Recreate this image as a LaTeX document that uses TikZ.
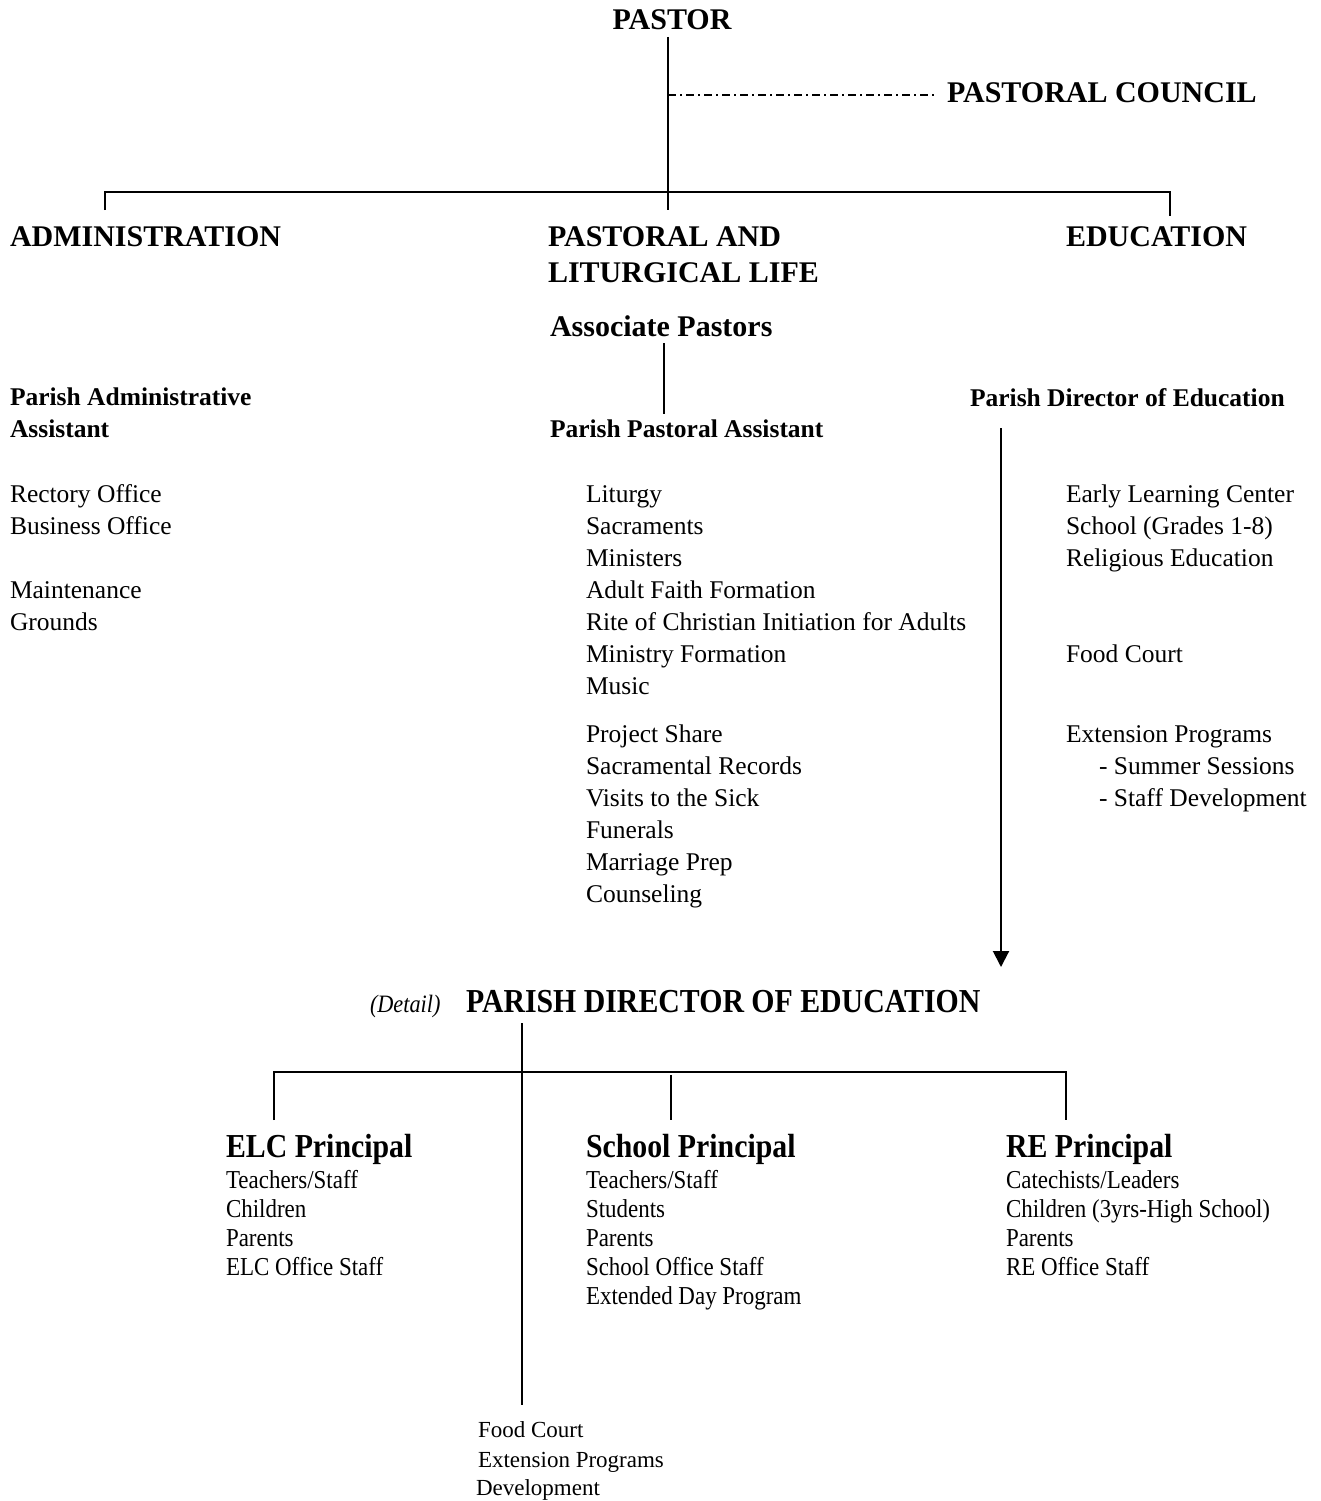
\documentclass[tikz,border=0pt]{standalone}
\usepackage{fontspec}
\setmainfont{Liberation Serif}
\newfontfamily\condfont[FakeStretch=0.89]{Liberation Serif}
\usetikzlibrary{arrows.meta}
\begin{document}
\begin{tikzpicture}[x=1pt,y=-1pt,
  every node/.style={inner sep=0pt, outer sep=0pt, anchor=base west},
  big/.style={font=\fontsize{30}{36}\selectfont\bfseries},
  sub/.style={font=\fontsize{25.5}{32}\selectfont\bfseries},
  itm/.style={font=\fontsize{25.5}{32}\selectfont},
  cbig/.style={font=\condfont\fontsize{33.5}{40}\selectfont\bfseries},
  cit/.style={font=\condfont\fontsize{25}{30}\selectfont\itshape},
  citm/.style={font=\condfont\fontsize{25.8}{30}\selectfont},
  sitm/.style={font=\fontsize{23}{29}\selectfont},
  link/.style={line width=2pt},
  council/.style={line width=1.3pt, dash pattern=on 8pt off 4pt on 2pt off 4pt}]
\useasboundingbox (0,0) rectangle (1320,1501);

% ---------- top part ----------
\node[big, anchor=base] (pastor) at (672,30) {PASTOR};
\node[big] (council) at (947,103) {PASTORAL COUNCIL};
\node[big] (admin) at (10,246) {ADMINISTRATION};
\node[big] (pll1) at (548,246) {PASTORAL AND};
\node[big] (pll2) at (548,282) {LITURGICAL LIFE};
\node[big] (edu) at (1066,246) {EDUCATION};
\node[big] (assoc) at (550,336) {Associate Pastors};
\node[sub] (paa1) at (10,405) {Parish Administrative};
\node[sub] (paa2) at (10,437) {Assistant};
\node[sub] (ppa) at (550,437) {Parish Pastoral Assistant};
\node[sub] (pde) at (970,406) {Parish Director of Education};

\foreach \y/\t [count=\i] in {502/{Rectory Office},534/{Business Office},598/{Maintenance},630/{Grounds}}
  \node[itm] (adm-\i) at (10,\y) {\t};

\foreach \y/\t [count=\i] in {502/{Liturgy},534/{Sacraments},566/{Ministers},598/{Adult Faith Formation},630/{Rite of Christian Initiation for Adults},662/{Ministry Formation},694/{Music},742/{Project Share},774/{Sacramental Records},806/{Visits to the Sick},838/{Funerals},870/{Marriage Prep},902/{Counseling}}
  \node[itm] (pas-\i) at (586,\y) {\t};

\foreach \x/\y/\t [count=\i] in {1066/502/{Early Learning Center},1066/534/{School (Grades 1-8)},1066/566/{Religious Education},1066/662/{Food Court},1066/742/{Extension Programs},1099/774/{- Summer Sessions},1099/806/{- Staff Development}}
  \node[itm] (ed-\i) at (\x,\y) {\t};

% connectors (top)
\coordinate (p-top) at (668,37);
\coordinate (p-bot) at (668,210);
\coordinate (bar-l) at (105,192);
\coordinate (bar-r) at (1170,192);
\coordinate (adm-tick) at (105,210);
\coordinate (edu-tick) at (1170,216);
\coordinate (c-start) at (668,95);
\coordinate (c-end) at (937,95);
\coordinate (as-top) at (664,343);
\coordinate (as-bot) at (664,414);
\coordinate (arr-s) at (1001,428);
\coordinate (arr-e) at (1001,967);

\draw[link] (p-top) -- (p-bot);
\draw[link] (adm-tick) -- (bar-l) -- (bar-r) -- (edu-tick);
\draw[council] (c-start) -- (c-end);
\draw[link] (as-top) -- (as-bot);
\draw[link, -{Triangle[length=16pt,width=16pt]}] (arr-s) -- (arr-e);

% ---------- detail part ----------
\node[cit] (detail) at (370,1012) {(Detail)};
\node[cbig] (pdeb) at (466,1012) {PARISH DIRECTOR OF EDUCATION};
\node[cbig] (elc) at (226,1157) {ELC Principal};
\node[cbig] (sch) at (586,1157) {School Principal};
\node[cbig] (rep) at (1006,1157) {RE Principal};

\foreach \y/\t [count=\i] in {1188/{Teachers/Staff},1217/{Children},1246/{Parents},1275/{ELC Office Staff}}
  \node[citm] (elc-\i) at (226,\y) {\t};
\foreach \y/\t [count=\i] in {1188/{Teachers/Staff},1217/{Students},1246/{Parents},1275/{School Office Staff},1304/{Extended Day Program}}
  \node[citm] (sch-\i) at (586,\y) {\t};
\foreach \y/\t [count=\i] in {1188/{Catechists/Leaders},1217/{Children (3yrs-High School)},1246/{Parents},1275/{RE Office Staff}}
  \node[citm] (re-\i) at (1006,\y) {\t};

\node[sitm] (fc) at (478,1437) {Food Court};
\node[sitm] (ep) at (478,1467) {Extension Programs};
\node[sitm] (dev) at (476,1495) {Development};

\coordinate (d-top) at (522,1023);
\coordinate (d-bot) at (522,1405);
\coordinate (b-l) at (274,1072);
\coordinate (b-r) at (1066,1072);
\coordinate (t-elc) at (274,1120);
\coordinate (t-re) at (1066,1120);
\coordinate (t-sch-a) at (671,1075);
\coordinate (t-sch-b) at (671,1120);

\draw[link] (d-top) -- (d-bot);
\draw[line width=2.5pt] (t-elc) -- (b-l) -- (b-r) -- (t-re);
\draw[link] (t-sch-a) -- (t-sch-b);
\end{tikzpicture}
\end{document}
